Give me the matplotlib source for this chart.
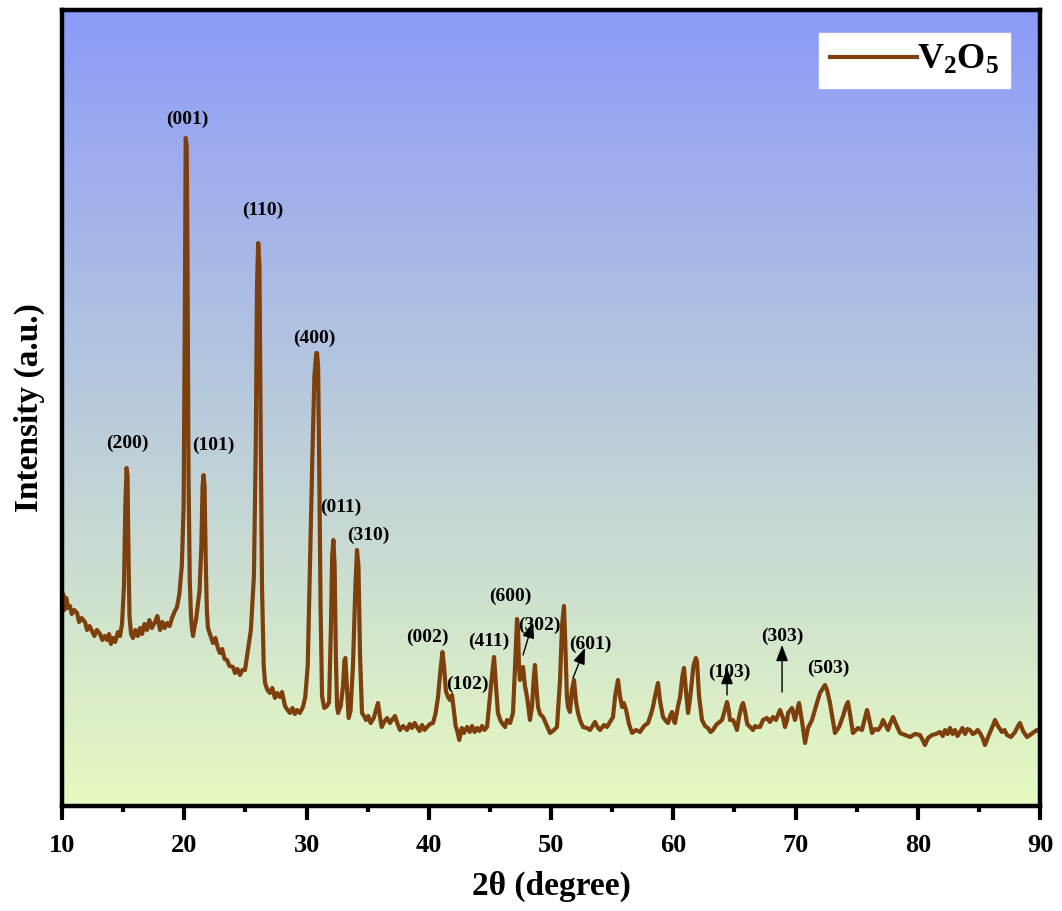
import numpy as np
import matplotlib
matplotlib.use('Agg')
from matplotlib import pyplot as plt
from matplotlib.ticker import MultipleLocator

plt.rcParams['font.family'] = ['Liberation Serif', 'DejaVu Serif']
plt.rcParams['font.weight'] = 'bold'
plt.rcParams['mathtext.default'] = 'regular'

# XRD pattern of V2O5: 2theta (deg), intensity (a.u.)
two_theta = [
    10.00, 10.10, 10.20, 10.35, 10.50, 10.65, 10.80, 11.00, 11.23, 11.40,
    11.60, 11.88, 12.05, 12.25, 12.45, 12.65, 12.85, 13.11, 13.30, 13.50,
    13.68, 13.85, 14.00, 14.17, 14.35, 14.58, 14.75, 14.91, 15.07, 15.18,
    15.28, 15.36, 15.44, 15.52, 15.65, 15.81, 16.00, 16.20, 16.38, 16.55,
    16.75, 16.95, 17.15, 17.35, 17.61, 17.80, 18.02, 18.20, 18.40, 18.59,
    18.80, 19.00, 19.20, 19.41, 19.60, 19.80, 19.95, 20.05, 20.12, 20.20,
    20.26, 20.35, 20.45, 20.55, 20.63, 20.72, 20.85, 20.96, 21.10, 21.25,
    21.40, 21.50, 21.58, 21.66, 21.75, 21.85, 21.94, 22.10, 22.35, 22.55,
    22.75, 22.92, 23.10, 23.30, 23.50, 23.70, 23.99, 24.15, 24.35, 24.56,
    24.75, 24.97, 25.20, 25.45, 25.70, 25.85, 25.95, 26.05, 26.15, 26.25,
    26.36, 26.50, 26.61, 26.80, 27.01, 27.20, 27.42, 27.60, 27.83, 28.00,
    28.24, 28.45, 28.65, 28.85, 29.05, 29.22, 29.45, 29.71, 29.90, 30.10,
    30.30, 30.50, 30.65, 30.80, 30.86, 30.95, 31.05, 31.15, 31.27, 31.45,
    31.68, 31.85, 32.00, 32.10, 32.20, 32.30, 32.40, 32.50, 32.58, 32.80,
    32.99, 33.10, 33.18, 33.30, 33.45, 33.60, 33.80, 34.00, 34.13, 34.25,
    34.38, 34.54, 34.70, 34.87, 35.05, 35.25, 35.50, 35.69, 35.85, 36.00,
    36.15, 36.35, 36.59, 36.83, 37.05, 37.24, 37.45, 37.65, 37.90, 38.22,
    38.45, 38.63, 38.85, 39.04, 39.25, 39.45, 39.65, 39.86, 40.10, 40.35,
    40.55, 40.76, 40.95, 41.12, 41.25, 41.40, 41.57, 41.74, 41.90, 42.06,
    42.20, 42.31, 42.50, 42.70, 42.88, 43.13, 43.35, 43.54, 43.75, 43.95,
    44.15, 44.36, 44.55, 44.77, 45.01, 45.17, 45.34, 45.50, 45.66, 45.85,
    45.99, 46.24, 46.40, 46.65, 46.89, 47.06, 47.22, 47.30, 47.38, 47.46,
    47.60, 47.71, 47.87, 48.04, 48.28, 48.45, 48.60, 48.69, 48.80, 48.94,
    49.10, 49.35, 49.67, 49.92, 50.25, 50.49, 50.65, 50.74, 50.90, 51.06,
    51.15, 51.30, 51.39, 51.55, 51.70, 51.88, 52.04, 52.21, 52.40, 52.62,
    52.94, 53.19, 53.40, 53.60, 53.80, 54.01, 54.34, 54.58, 54.83, 55.07,
    55.25, 55.48, 55.64, 55.81, 55.95, 56.14, 56.38, 56.63, 56.95, 57.28,
    57.61, 57.94, 58.18, 58.34, 58.55, 58.75, 58.92, 59.16, 59.40, 59.57,
    59.75, 59.90, 60.05, 60.14, 60.39, 60.56, 60.75, 60.88, 61.04, 61.21,
    61.35, 61.45, 61.65, 61.85, 61.94, 62.11, 62.35, 62.60, 62.84, 63.05,
    63.25, 63.45, 63.58, 63.80, 63.99, 64.20, 64.40, 64.55, 64.64, 64.89,
    65.10, 65.21, 65.40, 65.60, 65.71, 65.87, 66.05, 66.28, 66.52, 66.70,
    66.85, 67.10, 67.34, 67.67, 67.91, 68.16, 68.40, 68.73, 68.98, 69.14,
    69.30, 69.39, 69.71, 69.96, 70.12, 70.29, 70.53, 70.78, 71.02, 71.35,
    71.68, 72.00, 72.25, 72.41, 72.58, 72.82, 73.07, 73.23, 73.56, 73.89,
    74.13, 74.29, 74.46, 74.70, 74.87, 75.11, 75.44, 75.68, 75.85, 76.01,
    76.26, 76.50, 76.75, 76.99, 77.16, 77.40, 77.57, 77.73, 77.98, 78.22,
    78.55, 78.96, 79.37, 79.78, 80.18, 80.40, 80.59, 80.84, 81.17, 81.49,
    81.82, 82.05, 82.23, 82.45, 82.64, 82.85, 83.05, 83.25, 83.46, 83.65,
    83.87, 84.05, 84.27, 84.50, 84.68, 84.90, 85.09, 85.30, 85.50, 85.75,
    85.99, 86.20, 86.32, 86.56, 86.89, 87.10, 87.30, 87.63, 87.96, 88.20,
    88.36, 88.61, 88.94, 89.18, 89.51, 89.75, 90.00,
]
intensity = [
    204, 212, 196, 208, 198, 200, 192, 196, 193, 184,
    188, 184, 176, 180, 175, 170, 176, 172, 166, 170,
    166, 172, 162, 168, 164, 174, 170, 182, 220, 300,
    338, 330, 250, 190, 172, 168, 176, 170, 178, 172,
    182, 176, 186, 178, 184, 190, 176, 184, 178, 183,
    180, 188, 194, 199, 212, 240, 300, 500, 668, 660,
    560, 330, 226, 190, 178, 170, 180, 186, 200, 215,
    260, 320, 331, 320, 250, 195, 178, 172, 163, 168,
    158, 153, 157, 147, 146, 140, 139, 133, 137, 131,
    136, 136, 155, 176, 230, 360, 520, 563, 540, 380,
    220, 140, 123, 116, 113, 118, 108, 113, 109, 114,
    100, 96, 93, 98, 92, 96, 93, 99, 109, 140,
    250, 360, 430, 453, 453, 440, 330, 200, 110, 98,
    100, 104, 180, 250, 266, 240, 150, 100, 93, 100,
    120, 145, 148, 120, 88, 95, 140, 220, 256, 240,
    150, 93, 90, 86, 90, 83, 88, 96, 103, 90,
    79, 84, 88, 83, 87, 90, 82, 76, 80, 76,
    82, 78, 83, 79, 75, 81, 76, 79, 82, 83,
    92, 109, 135, 154, 140, 115, 109, 106, 111, 95,
    80, 76, 66, 78, 73, 79, 74, 80, 74, 78,
    75, 80, 76, 79, 109, 130, 149, 120, 93, 86,
    83, 79, 86, 83, 93, 140, 187, 180, 140, 126,
    135, 139, 120, 109, 86, 100, 130, 141, 120, 99,
    92, 89, 80, 73, 76, 79, 110, 126, 180, 200,
    170, 110, 99, 94, 115, 126, 105, 93, 85, 79,
    78, 76, 80, 84, 79, 76, 81, 79, 84, 89,
    110, 126, 110, 99, 103, 96, 82, 73, 76, 74,
    80, 83, 92, 99, 112, 123, 105, 89, 85, 83,
    90, 94, 85, 83, 100, 109, 130, 138, 115, 93,
    105, 116, 140, 148, 145, 110, 86, 80, 78, 74,
    76, 80, 82, 84, 86, 95, 104, 95, 86, 86,
    80, 76, 90, 100, 103, 95, 82, 79, 76, 80,
    79, 79, 86, 88, 84, 89, 86, 96, 88, 79,
    85, 93, 98, 86, 95, 103, 85, 63, 78, 86,
    100, 113, 118, 121, 116, 103, 85, 73, 79, 90,
    100, 104, 92, 73, 75, 78, 76, 88, 96, 88,
    73, 77, 76, 80, 86, 80, 76, 82, 89, 82,
    73, 71, 69, 72, 71, 66, 61, 68, 71, 72,
    74, 70, 76, 72, 78, 72, 76, 70, 74, 78,
    72, 77, 76, 72, 73, 76, 73, 68, 61, 69,
    76, 82, 86, 80, 74, 76, 71, 69, 74, 80,
    83, 75, 69, 71, 74, 76, 74,
]

# Miller indices of the labelled reflections
hkl_labels = ['(200)', '(001)', '(101)', '(110)', '(400)', '(011)', '(310)',
              '(002)', '(102)', '(411)', '(600)', '(302)', '(601)', '(103)',
              '(303)', '(503)']

# label text positions (2theta, a.u.)
label_pos = [(15.32, 363), (20.22, 687), (22.35, 361), (26.44, 596),
             (30.61, 468), (32.82, 299), (35.03, 271), (39.86, 169),
             (43.13, 122), (44.93, 165), (46.65, 210), (49.02, 181),
             (53.19, 162), (64.56, 134), (68.90, 170), (72.66, 138)]

# arrows: (tail, head)
arrows = [((47.71, 151), (48.53, 184)),
          ((51.80, 128), (52.78, 158)),
          ((64.40, 111), (64.40, 138)),
          ((68.90, 114), (68.90, 161))]

line_color = '#7d3f0c'

fig = plt.figure(figsize=(10.62, 9.11), dpi=100)
ax = fig.add_axes([62 / 1062, 1 - 806 / 911, 978 / 1062, 796 / 911])

# gradient background (blue top -> pale green bottom)
top = np.array([140, 155, 248]) / 255
bottom = np.array([230, 250, 192]) / 255
t = np.linspace(0, 1, 256)[:, None]
grad = (top * (1 - t) + bottom * t)[:, None, :]
ax.imshow(grad, extent=[0, 1, 0, 1], transform=ax.transAxes,
          aspect='auto', zorder=0)

ax.plot(two_theta, intensity, color=line_color, lw=3.0, label='V$_2$O$_5$',
        zorder=2)

for lab, (x, y) in zip(hkl_labels, label_pos):
    ax.text(x, y, lab, fontsize=14, fontweight='bold', ha='center',
            va='center', zorder=3)

for tail, head in arrows:
    ax.annotate('', xy=head, xytext=tail,
                arrowprops=dict(arrowstyle='-|>,head_length=0.75,head_width=0.28',
                                color='k', lw=1.0, mutation_scale=13,
                                shrinkA=0, shrinkB=0),
                zorder=3)

ax.set_xlim(10, 90)
ax.set_ylim(0, 796)
ax.xaxis.set_major_locator(MultipleLocator(10))
ax.xaxis.set_minor_locator(MultipleLocator(5))
ax.set_yticks([])
ax.tick_params(axis='x', which='major', direction='out', length=10, width=3,
               labelsize=19, pad=10)
ax.tick_params(axis='x', which='minor', direction='out', length=4, width=3)
for lbl in ax.get_xticklabels():
    lbl.set_fontweight('bold')
for sp in ax.spines.values():
    sp.set_linewidth(3.2)

ax.set_xlabel('2θ (degree)', fontsize=24, fontweight='bold', labelpad=10)
ax.set_ylabel('Intensity (a.u.)', fontsize=24, fontweight='bold', labelpad=12)

leg = ax.legend(loc='upper right', bbox_to_anchor=(0.969, 0.971),
                borderaxespad=0, fontsize=26, frameon=True, fancybox=False,
                handlelength=2.4, handletextpad=0.0, borderpad=0.3)
leg.get_frame().set_facecolor('white')
leg.get_frame().set_edgecolor('white')
leg.get_frame().set_alpha(1)
for txt in leg.get_texts():
    txt.set_fontweight('bold')

fig.savefig('out.png', dpi=100, facecolor='white')
